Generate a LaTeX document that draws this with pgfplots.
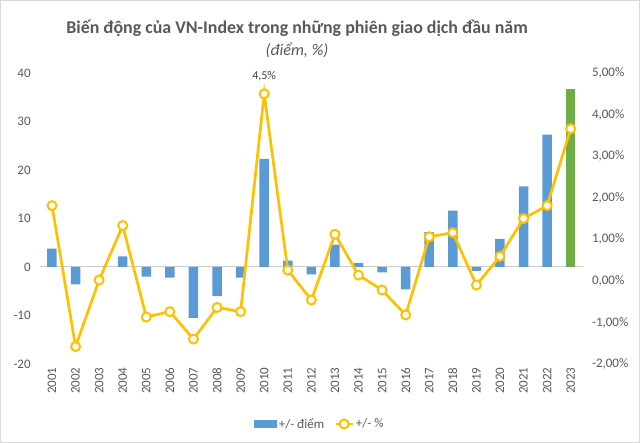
\documentclass[border=0pt]{standalone}
\usepackage{pgfplots}
\pgfplotsset{compat=1.18}
\usepackage{fontspec}
\setmainfont{Carlito}
\definecolor{txt}{HTML}{595959}
\definecolor{barblue}{HTML}{5B9BD5}
\definecolor{bargreen}{HTML}{70AD47}
\definecolor{yl}{HTML}{FFC000}
\begin{document}
\begin{tikzpicture}[x=1pt,y=1pt]
\useasboundingbox (0,0) rectangle (640,443);
\draw[draw=black!15, line width=1pt] (0.5,0.5) rectangle (639.5,442.5);
\node[font=\bfseries\fontsize{17.9}{21}\selectfont, text=txt] at (297,415) {Biến động của VN-Index trong những phiên giao dịch đầu năm};
\node[font=\itshape\fontsize{16.3}{19}\selectfont, text=txt] at (297,393) {(điểm, \%)};
\begin{axis}[
  at={(40.2pt,79pt)}, anchor=south west,
  scale only axis, width=542.3pt, height=291pt,
  xmin=-0.5, xmax=22.5, ymin=-20, ymax=40,
  ytick={-20,-10,0,10,20,30,40},
  xtick={0,...,22},
  xticklabels={2001,2002,2003,2004,2005,2006,2007,2008,2009,2010,2011,2012,2013,2014,2015,2016,2017,2018,2019,2020,2021,2022,2023},
  xticklabel style={rotate=90, anchor=east, font=\fontsize{13}{15}\selectfont, text=txt},
  yticklabel style={font=\fontsize{13}{15}\selectfont, text=txt, xshift=-6pt},
  /pgf/number format/assume math mode=true,
  axis line style={draw=none}, tick style={draw=none},
  clip=false,
]
\draw[black!20, line width=1pt] (axis cs:-0.5,0) -- (axis cs:22.5,0);
\addplot[ybar, bar width=9.5pt, bar shift=0pt, fill=barblue, draw=none] coordinates {
(0,3.8) (1,-3.6) (2,0.0) (3,2.2) (4,-2.0) (5,-2.2) (6,-10.5) (7,-6.0) (8,-2.2) (9,22.3) (10,1.3) (11,-1.5)
(12,4.6) (13,0.8) (14,-1.1) (15,-4.6) (16,7.2) (17,11.6) (18,-0.8) (19,5.8) (20,16.6) (21,27.3)};
\addplot[ybar, bar width=9.5pt, bar shift=0pt, fill=bargreen, draw=none] coordinates {(22,36.7)};
\end{axis}
\begin{axis}[
  at={(40.2pt,79pt)}, anchor=south west,
  scale only axis, width=542.3pt, height=291pt,
  xmin=-0.5, xmax=22.5, ymin=-2, ymax=5,
  axis y line*=right, axis x line=none,
  ytick={-2,-1,0,1,2,3,4,5},
  yticklabel={\pgfmathprintnumber[fixed,fixed zerofill,precision=2,use comma]{\tick}\%},
  yticklabel style={font=\fontsize{13}{15}\selectfont, text=txt, xshift=6pt},
  /pgf/number format/assume math mode=true,
  axis line style={draw=none}, tick style={draw=none},
  xtick=\empty,
  clip=false,
  legend columns=2,
  legend style={at={(0.516,-0.206)}, anchor=center, draw=none, fill=none,
    font=\fontsize{13}{15}\selectfont, text=txt,
    /tikz/every even column/.append style={column sep=8pt}},
]
\addlegendimage{legend image code/.code={\fill[barblue] (-2pt,-3.5pt) rectangle (20pt,3.5pt);}}
\addlegendentry{+/- điểm}
\addplot[color=yl, line width=2.7pt, mark=*, mark size=4.5pt, mark options={fill=white, draw=yl, line width=2pt}] coordinates {
(0,1.81) (1,-1.58) (2,0.02) (3,1.33) (4,-0.87) (5,-0.74) (6,-1.40) (7,-0.64) (8,-0.74) (9,4.50) (10,0.26) (11,-0.46)
(12,1.12) (13,0.14) (14,-0.22) (15,-0.82) (16,1.06) (17,1.16) (18,-0.10) (19,0.59) (20,1.50) (21,1.81) (22,3.66)};
\addlegendentry{+/- \%}
\node[font=\fontsize{12}{14}\selectfont, text=black!75, anchor=south] at (axis cs:9,4.5) [yshift=9pt] {4,5\%};
\end{axis}
\end{tikzpicture}
\end{document}
